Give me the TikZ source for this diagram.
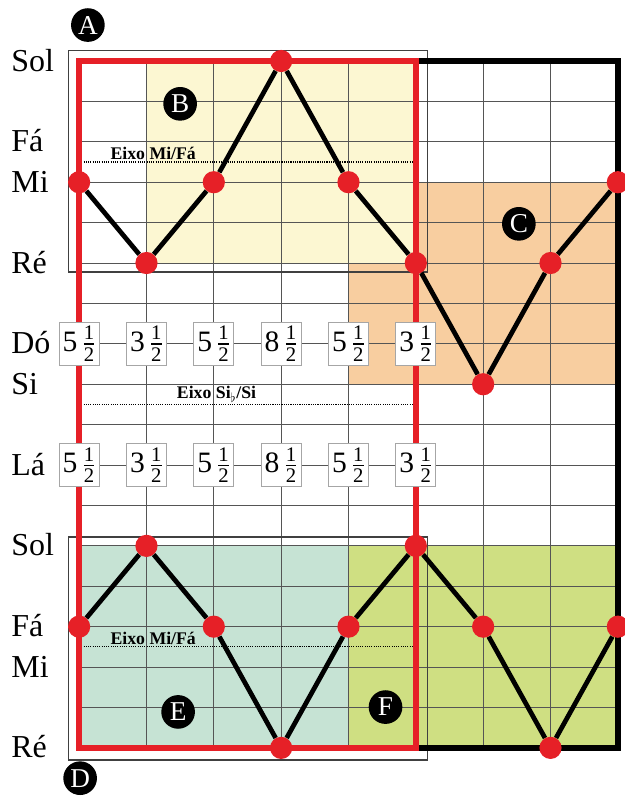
\documentclass[tikz,border=0pt]{standalone}
\usepackage{amsmath,amssymb}
\usepackage{fontspec}
\setmainfont{Liberation Serif}
\usepackage{xcolor}
\usepackage{tikz}

\definecolor{notered}{RGB}{230,32,39}
\definecolor{zoneB}{RGB}{252,247,210}
\definecolor{zoneC}{RGB}{248,206,160}
\definecolor{zoneE}{RGB}{198,227,212}
\definecolor{zoneF}{RGB}{207,223,130}
\definecolor{gridgray}{RGB}{85,85,85}

\newcommand{\mixfrac}[1]{#1\,$\frac{\text{1}}{\text{2}}$}

\begin{document}
\begin{tikzpicture}[x=2cm, y=1.2cm,
  gridline/.style={gridgray, line width=0.7pt},
  eixoline/.style={black, densely dotted, line width=0.9pt},
  zoneframe/.style={draw=gray!50!black, line width=1pt},
  melody/.style={black, line width=4pt},
  reddot/.style={circle, fill=notered, inner sep=0pt, minimum size=0.66cm},
  fracbox/.style={
    rectangle, draw=gray!70, fill=white, line width=0.8pt,
    minimum width=1.19cm, minimum height=1.28cm, inner sep=0pt,
    font=\fontsize{25}{25}\selectfont},
  notename/.style={anchor=base west, inner sep=0pt, yshift=-0.3cm,
    font=\fontsize{27}{27}\selectfont},
  eixo/.style={anchor=south, inner sep=1.5pt,
    font=\fontsize{15}{15}\selectfont\bfseries},
  tag/.style={circle, fill=black, text=white, inner sep=0pt,
    minimum size=1.0cm, font=\fontsize{23}{23}\selectfont}
]
\useasboundingbox (-1.175,1.51) rectangle (8.105,-18.29);
% ── Zones ──
\fill[zoneC] (4,-3) rectangle (8,-8);
\fill[zoneB] (1,0) rectangle (5,-5);
\fill[zoneE] (0,-12) rectangle (4,-17);
\fill[zoneF] (4,-12) rectangle (8,-17);
% ── Grid ──
\foreach \c in {0,...,8} \draw[gridline] (\c,0) -- (\c,-17);
\foreach \r in {0,...,17} \draw[gridline] (0,-\r) -- (8,-\r);
% ── Axes ──
\draw[eixoline] (0,-2.5) -- (5,-2.5);
\draw[eixoline] (0,-8.5) -- (5,-8.5);
\draw[eixoline] (0,-14.5) -- (5,-14.5);
\node[eixo] (eixoA) at (1.1,-2.5)  {Eixo Mi/Fá};
\node[eixo] (eixoB) at (2.04,-8.5) {Eixo Si$_\flat$/Si};
\node[eixo] (eixoC) at (1.1,-14.5) {Eixo Mi/Fá};
% ── Frames ──
\draw[zoneframe] (-0.16,0.27) rectangle (5.17,-5.22);
\draw[zoneframe] (-0.16,-11.78) rectangle (5.17,-17.3);
\draw[black, line width=5pt, line join=miter] (5,0) -- (8,0) -- (8,-17) -- (5,-17);
\draw[notered, line width=5.5pt, line join=miter] (0,0) rectangle (5,-17);
% ── Note names ──
\foreach \r/\n in {0/Sol, 2/Fá, 3/Mi, 5/Ré, 7/Dó, 8/Si, 10/Lá,
                   12/Sol, 14/Fá, 15/Mi, 17/Ré}
  \node[notename] (name\r) at (-1.01,-\r) {\n};
% ── Melodies ──
\foreach \r [count=\i from 0] in {3,5,3,0,3,5,8,5,3}
  \node[reddot] (t\i) at (\i,-\r) {};
\foreach \r [count=\i from 0] in {14,12,14,17,14,12,14,17,14}
  \node[reddot] (b\i) at (\i,-\r) {};
\foreach \i [evaluate=\i as \j using int(\i+1)] in {0,...,7} {
  \draw[melody] (t\i) -- (t\j);
  \draw[melody] (b\i) -- (b\j);
}
% ── Intervals ──
\foreach \v [count=\i from 0] in {5,3,5,8,5,3} {
  \node[fracbox] (f\i) at (\i,-7)  {\mixfrac{\v}};
  \node[fracbox] (g\i) at (\i,-10) {\mixfrac{\v}};
}
% ── Tags ──
\node[tag] (tagA) at (0.13,0.89)   {A};
\node[tag] (tagB) at (1.5,-1.06)   {B};
\node[tag] (tagC) at (6.53,-4.03)  {C};
\node[tag] (tagD) at (0.015,-17.75) {D};
\node[tag] (tagE) at (1.47,-16.11) {E};
\node[tag] (tagF) at (4.55,-15.99) {F};
\end{tikzpicture}
\end{document}
